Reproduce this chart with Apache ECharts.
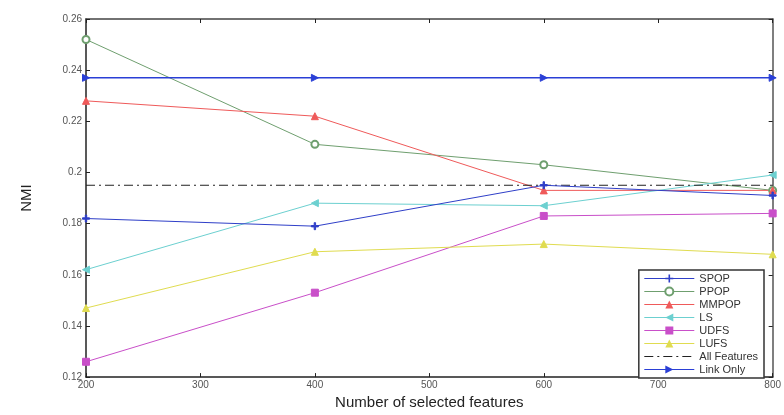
<!DOCTYPE html>
<html>
<head>
<meta charset="utf-8">
<script src="https://cdn.jsdelivr.net/npm/echarts@6/dist/echarts.min.js"></script>
<style>html,body{margin:0;padding:0;background:#fff}#c{width:784px;height:415px}</style>
</head>
<body>
<div id="c"></div>
<script>
var features = [200, 400, 600, 800];
var seriesNames = ['SPOP', 'PPOP', 'MMPOP', 'LS', 'UDFS', 'LUFS', 'All Features', 'Link Only'];
var spop = [0.182, 0.179, 0.195, 0.191];
var ppop = [0.252, 0.211, 0.203, 0.193];
var mmpop = [0.228, 0.222, 0.193, 0.193];
var ls = [0.162, 0.188, 0.187, 0.199];
var udfs = [0.126, 0.153, 0.183, 0.184];
var lufs = [0.147, 0.169, 0.172, 0.168];
var allFeatures = [0.195, 0.195, 0.195, 0.195];
var linkOnly = [0.237, 0.237, 0.237, 0.237];
var xTicks = [200, 300, 400, 500, 600, 700, 800];
var yTicks = [0.12, 0.14, 0.16, 0.18, 0.2, 0.22, 0.24, 0.26];

function pairs(vals) { return features.map(function (f, i) { return [f, vals[i]]; }); }

var plusPath = 'path://M4,0H6V4H10V6H6V10H4V6H0V4H4Z';
var styles = [
  { c: '#2f3fc8', s: plusPath, z: 8 },
  { c: '#6f9f6f', s: 'emptyCircle', z: 6 },
  { c: '#ef5a5a', s: 'triangle', z: 6 },
  { c: '#6cd0d0', s: 'path://M10,0L0,5L10,10Z', z: 6 },
  { c: '#c94fc9', s: 'rect', z: 6 },
  { c: '#e0dc50', s: 'triangle', z: 6 },
  { c: '#222222', s: 'circle', z: 6 },
  { c: '#2a3fd6', s: 'path://M0,0L10,5L0,10Z', z: 7 }
];
var allVals = [spop, ppop, mmpop, ls, udfs, lufs, allFeatures, linkOnly];

var series = seriesNames.map(function (n, i) {
  var st = styles[i];
  var o = {
    name: n, type: 'line', data: pairs(allVals[i]),
    symbol: st.s, symbolSize: 7,
    lineStyle: { color: st.c, width: (i === 7 ? 1.5 : 1) },
    itemStyle: { color: st.c, borderColor: st.c },
    emphasis: { disabled: true },
    z: st.z, animation: false
  };
  if (i === 6) {
    o.lineStyle.type = [9, 4, 2, 4];
    o.showSymbol = false;
    o.itemStyle = { color: 'rgba(0,0,0,0)', borderColor: 'rgba(0,0,0,0)' };
  }
  return o;
});

var chart = echarts.init(document.getElementById('c'), null, { renderer: 'canvas' });
var tickStyle = { color: '#555', fontSize: 10, fontFamily: 'Liberation Sans, Arial' };
chart.setOption({
  animation: false,
  backgroundColor: '#ffffff',
  grid: { left: 86, right: 11, top: 19, bottom: 32 },
  xAxis: [{
    type: 'value', min: xTicks[0], max: xTicks[xTicks.length - 1], interval: 100,
    axisLine: { lineStyle: { color: '#222', width: 1.5 } },
    axisTick: { inside: true, length: 4, lineStyle: { color: '#222' } },
    axisLabel: { ...tickStyle, margin: 3 },
    splitLine: { show: false },
    name: 'Number of selected features', nameLocation: 'middle', nameGap: 14,
    nameTextStyle: { fontSize: 15, color: '#222', fontFamily: 'Liberation Sans, Arial' }
  }, {
    type: 'value', position: 'top', min: 200, max: 800, interval: 100,
    axisLine: { show: true, lineStyle: { color: '#444', width: 1.5 } },
    axisTick: { inside: true, length: 4, lineStyle: { color: '#222' } },
    axisLabel: { show: false }, splitLine: { show: false }
  }],
  yAxis: [{
    type: 'value', min: yTicks[0], max: yTicks[yTicks.length - 1], interval: 0.02,
    axisLine: { show: true, lineStyle: { color: '#222', width: 1.5 } },
    axisTick: { show: true, inside: true, length: 4, lineStyle: { color: '#222' } },
    axisLabel: { ...tickStyle, margin: 4 },
    splitLine: { show: false },
    name: 'NMI', nameLocation: 'middle', nameGap: 52, nameRotate: 90,
    nameTextStyle: { fontSize: 15, color: '#222', fontFamily: 'Liberation Sans, Arial' }
  }, {
    type: 'value', position: 'right', min: 0.12, max: 0.26, interval: 0.02,
    axisLine: { show: true, lineStyle: { color: '#555', width: 1.5 } },
    axisTick: { show: true, inside: true, length: 4, lineStyle: { color: '#222' } },
    axisLabel: { show: false }, splitLine: { show: false }
  }],
  legend: {
    data: seriesNames, orient: 'vertical', right: 20, top: 270,
    backgroundColor: '#fff', borderColor: '#333', borderWidth: 1.5,
    padding: [3, 6, 3, 5], itemGap: 2, itemWidth: 50, itemHeight: 10,
    lineStyle: { width: 1 },
    textStyle: { fontSize: 11, color: '#333', fontFamily: 'Liberation Sans, Arial' }
  },
  series: series
});
</script>
</body>
</html>
